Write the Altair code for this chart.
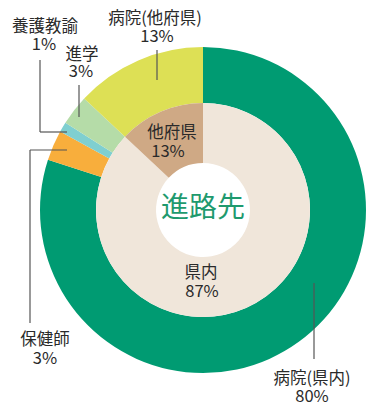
import altair as alt
import pandas as pd

# ---- data ----
outer_labels = ["病院(県内)", "保健師", "養護教諭", "進学", "病院(他府県)"]
outer_values = [80, 3, 1, 3, 13]
inner_labels = ["県内", "他府県"]
inner_values = [87, 13]
center_title = "進路先"

outer_colors = ["#009B72", "#F8AE3C", "#7FCFD0", "#B5DCA8", "#DDE055"]
inner_colors = ["#F0E6DA", "#CFA985"]

# ---- layout (chart pixel coordinates; page margin 8px) ----
CX, CY = 195, 202
R_OUT, R_MID, R_IN = 163, 107, 47

# label positions: (name x, name y, pct x, pct y)
outer_label_pos = [
    (304, 371, 304, 389),   # 病院(県内)
    (37, 332, 37, 351),     # 保健師
    (37, 19, 36, 37),       # 養護教諭
    (74, 47, 73, 64),       # 進学
    (147, 11, 149, 29),     # 病院(他府県)
]
inner_label_pos = [
    (193, 265, 194, 284),   # 県内
    (164, 125, 160, 144),   # 他府県
]

# leader lines (chart coords)
leader_lines = [
    (306, 275, 306, 351),
    (59, 142, 22, 142), (22, 142, 22, 315),
    (32, 52, 32, 124), (32, 124, 59, 124),
    (71, 77, 71, 109),
    (149, 42, 149, 72),
]

df_outer = pd.DataFrame({"olabel": outer_labels, "value": outer_values,
                         "idx": list(range(len(outer_labels)))})
df_inner = pd.DataFrame({"ilabel": inner_labels, "value": inner_values,
                         "idx": list(range(len(inner_labels)))})

outer = alt.Chart(df_outer).mark_arc(radius=R_OUT, radius2=R_MID).encode(
    theta=alt.Theta("value:Q", stack=True),
    color=alt.Color("olabel:N", scale=alt.Scale(domain=outer_labels, range=outer_colors), legend=None),
    order=alt.Order("idx:Q"),
    x=alt.value(CX), y=alt.value(CY),
)
inner = alt.Chart(df_inner).mark_arc(radius=R_MID, radius2=R_IN).encode(
    theta=alt.Theta("value:Q", stack=True),
    fill=alt.Fill("ilabel:N", scale=alt.Scale(domain=inner_labels, range=inner_colors), legend=None),
    order=alt.Order("idx:Q"),
    x=alt.value(CX), y=alt.value(CY),
)

rows = []
for lab, val, (nx, ny, px, py) in zip(outer_labels, outer_values, outer_label_pos):
    rows.append({"t": lab, "x": nx, "y": ny})
    rows.append({"t": f"{val}%", "x": px, "y": py})
for lab, val, (nx, ny, px, py) in zip(inner_labels, inner_values, inner_label_pos):
    rows.append({"t": lab, "x": nx, "y": ny})
    rows.append({"t": f"{val}%", "x": px, "y": py})
df_text = pd.DataFrame(rows)

labels = alt.Chart(df_text).mark_text(
    font="Noto Sans CJK JP", fontSize=16.5, color="#2a2a2a", baseline="middle", align="center"
).encode(
    x=alt.X("x:Q", scale=None), y=alt.Y("y:Q", scale=None), text="t:N"
)

df_lines = pd.DataFrame(leader_lines, columns=["x", "y", "x2", "y2"])
lines = alt.Chart(df_lines).mark_rule(color="#555555", strokeWidth=1.2).encode(
    x=alt.X("x:Q", scale=None), y=alt.Y("y:Q", scale=None),
    x2="x2:Q", y2="y2:Q",
)

center = alt.Chart(pd.DataFrame({"t": [center_title]})).mark_text(
    font="Noto Sans CJK JP", fontSize=28, color="#1E9A6E", baseline="middle", align="center"
).encode(x=alt.value(CX), y=alt.value(CY - 1), text="t:N")

chart = alt.layer(outer, inner, lines, labels, center).resolve_scale(
    color="independent", fill="independent"
).properties(
    width=359, height=396, padding=0, autosize=alt.AutoSizeParams(type="none")
).configure_view(stroke=None)

chart.save("out.html", embed_options={"renderer": "svg", "actions": False})
